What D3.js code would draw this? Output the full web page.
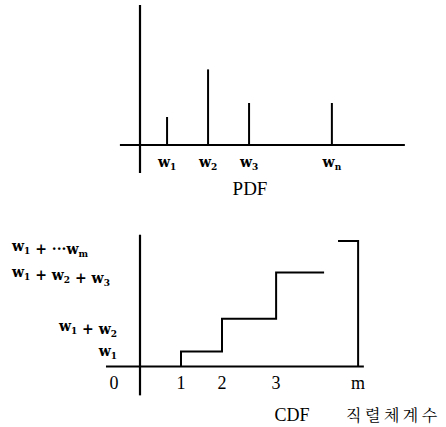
<!DOCTYPE html>
<html><head><meta charset="utf-8">
<script src="https://cdn.jsdelivr.net/npm/d3@7"></script>
<style>html,body{margin:0;padding:0;background:#fff;}svg{display:block;}</style>
</head><body>
<script>
// ---- data ----
const pdfSubs   = ["1","2","3","n"];
const pdfPos    = [0.66, 1.66, 2.66, 4.68];
const pdfValues = [0.10, 0.27, 0.15, 0.15];

const cdfTicks    = ["1","2","3","m"];
const cdfTickPos  = [1, 2, 3.32, 5.32];
const cdfValues   = [0.12, 0.38, 0.75, 1.0];
const cdfLabels   = ["w_1", "w_1 + w_2", "w_1 + w_2 + w_3", "w_1 + ···w_m"];
const cdfBreak    = [4.49, 4.83];

const W = 446, H = 427;
const svg = d3.select("body").append("svg").attr("width", W).attr("height", H);

const x = d3.scaleLinear().domain([0, 1]).range([140, 181]);
const yTop = d3.scaleLinear().domain([0, 0.5]).range([145, 5]);
const yBot = d3.scaleLinear().domain([0, 1]).range([366.5, 241]);

const serif = "Liberation Serif";
const bserif = "DejaVu Serif";

function mathText(sel, str, size, subSize) {
  sel.attr("font-family", bserif).attr("font-weight", "bold").attr("font-size", size);
  const parts = str.split(/(_\S)/);
  parts.forEach(p => {
    if (!p) return;
    if (p[0] === "_") {
      sel.append("tspan").attr("font-size", subSize).attr("dy", 3).text(p[1]);
      sel.append("tspan").attr("dy", -3).text("");
    } else {
      sel.append("tspan").text(p);
    }
  });
}

const line = d3.line().x(d => x(d[0])).y(d => d[1]);

// ---- top: PDF ----
svg.append("path").attr("d", line([[-0.49, yTop(0)], [6.46, yTop(0)]]))
  .attr("stroke", "#000").attr("stroke-width", 2);
svg.append("path").attr("d", line([[0, yTop(-0.1)], [0, yTop(0.5)]]))
  .attr("stroke", "#000").attr("stroke-width", 2.2);
svg.selectAll(".stem").data(pdfValues).enter().append("path")
  .attr("d", (d, i) => line([[pdfPos[i], yTop(0)], [pdfPos[i], yTop(d)]]))
  .attr("stroke", "#000").attr("stroke-width", 2);
pdfSubs.forEach((s, i) => {
  const t = svg.append("text").attr("x", x(pdfPos[i])).attr("y", 167).attr("text-anchor", "middle");
  mathText(t, "w_" + s, 14, 9);
});
svg.append("text").attr("x", 250).attr("y", 195).attr("text-anchor", "middle")
  .attr("font-family", serif).attr("font-size", 19).text("PDF");

// ---- bottom: CDF ----
svg.append("path").attr("d", line([[-0.83, yBot(0)], [5.46, yBot(0)]]))
  .attr("stroke", "#000").attr("stroke-width", 2);
svg.append("path").attr("d", line([[0, yBot(-0.23)], [0, yBot(1.05)]]))
  .attr("stroke", "#000").attr("stroke-width", 2.2);

const stair = [[cdfTickPos[0], yBot(0)], [cdfTickPos[0], yBot(cdfValues[0])],
  [cdfTickPos[1], yBot(cdfValues[0])], [cdfTickPos[1], yBot(cdfValues[1])],
  [cdfTickPos[2], yBot(cdfValues[1])], [cdfTickPos[2], yBot(cdfValues[2])],
  [cdfBreak[0], yBot(cdfValues[2])]];
svg.append("path").attr("d", line(stair)).attr("fill", "none")
  .attr("stroke", "#000").attr("stroke-width", 2).attr("stroke-linejoin", "miter");
svg.append("path").attr("d", line([[cdfBreak[1], yBot(cdfValues[3])], [cdfTickPos[3], yBot(cdfValues[3])], [cdfTickPos[3], yBot(0)]]))
  .attr("fill", "none").attr("stroke", "#000").attr("stroke-width", 2);

// tick labels
const tickG = svg.append("g").attr("font-family", serif).attr("font-size", 18);
tickG.append("text").attr("x", x(0) - 26).attr("y", 389).attr("text-anchor", "middle").text("0");
cdfTicks.forEach((t, i) => {
  tickG.append("text").attr("x", x(cdfTickPos[i])).attr("y", 389).attr("text-anchor", "middle").text(t);
});

// y labels
const labDy = [5, 12, 5, 10];
cdfLabels.forEach((s, i) => {
  const left = i >= 2;
  const t = svg.append("text").attr("y", yBot(cdfValues[i]) + labDy[i])
    .attr("x", left ? 12 : 117).attr("text-anchor", left ? "start" : "end");
  mathText(t, s, 14, 9);
});

svg.append("text").attr("x", 292).attr("y", 421).attr("text-anchor", "middle")
  .attr("font-family", serif).attr("font-size", 18).text("CDF");
svg.append("text").attr("x", 346).attr("y", 421)
  .attr("font-family", "Noto Serif CJK KR").attr("font-size", 16)
  .attr("letter-spacing", 3.5).text("직렬체계수");
</script>
</body></html>
